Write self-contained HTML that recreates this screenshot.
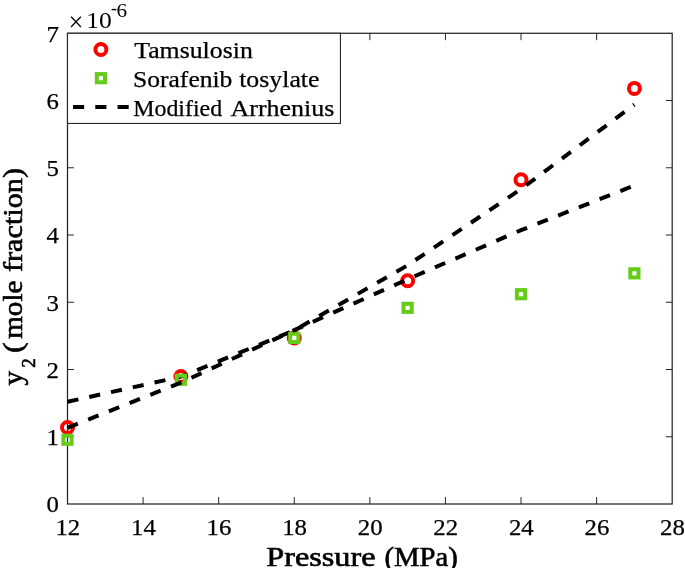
<!DOCTYPE html>
<html lang="en"><head><meta charset="utf-8"><title>Solubility vs Pressure</title>
<style>html,body{margin:0;padding:0;background:#fff;}svg{display:block;}text{font-family:"Liberation Serif", "DejaVu Serif", serif;fill:#000;}</style>
</head><body>
<svg width="685" height="568" viewBox="0 0 685 568">
<rect x="0" y="0" width="685" height="568" fill="#fff"/>
<g fill="none" stroke="#262626" stroke-width="1.25">
<rect x="67.50" y="33.28" width="604.70" height="470.72"/>
</g>
<path d="M143.09 504.00V497.10M143.09 33.28V40.18M218.68 504.00V497.10M218.68 33.28V40.18M294.26 504.00V497.10M294.26 33.28V40.18M369.85 504.00V497.10M369.85 33.28V40.18M445.44 504.00V497.10M445.44 33.28V40.18M521.03 504.00V497.10M521.03 33.28V40.18M596.61 504.00V497.10M596.61 33.28V40.18M67.50 436.75H73.90M672.20 436.75H665.80M67.50 369.51H73.90M672.20 369.51H665.80M67.50 302.26H73.90M672.20 302.26H665.80M67.50 235.02H73.90M672.20 235.02H665.80M67.50 167.77H73.90M672.20 167.77H665.80M67.50 100.53H73.90M672.20 100.53H665.80" fill="none" stroke="#262626" stroke-width="1"/>
<g font-size="22.3" text-anchor="middle" stroke="#000" stroke-width="0.25">
<text x="67.80" y="534.6" textLength="24.8" lengthAdjust="spacingAndGlyphs">12</text>
<text x="143.39" y="534.6" textLength="24.8" lengthAdjust="spacingAndGlyphs">14</text>
<text x="218.98" y="534.6" textLength="24.8" lengthAdjust="spacingAndGlyphs">16</text>
<text x="294.56" y="534.6" textLength="24.8" lengthAdjust="spacingAndGlyphs">18</text>
<text x="370.15" y="534.6" textLength="24.8" lengthAdjust="spacingAndGlyphs">20</text>
<text x="445.74" y="534.6" textLength="24.8" lengthAdjust="spacingAndGlyphs">22</text>
<text x="521.33" y="534.6" textLength="24.8" lengthAdjust="spacingAndGlyphs">24</text>
<text x="596.91" y="534.6" textLength="24.8" lengthAdjust="spacingAndGlyphs">26</text>
<text x="672.50" y="534.6" textLength="24.8" lengthAdjust="spacingAndGlyphs">28</text>
</g>
<g font-size="22.3" text-anchor="end" stroke="#000" stroke-width="0.25">
<text x="58.9" y="512.30" textLength="12.4" lengthAdjust="spacingAndGlyphs">0</text>
<text x="58.9" y="445.05" textLength="12.4" lengthAdjust="spacingAndGlyphs">1</text>
<text x="58.9" y="377.81" textLength="12.4" lengthAdjust="spacingAndGlyphs">2</text>
<text x="58.9" y="310.56" textLength="12.4" lengthAdjust="spacingAndGlyphs">3</text>
<text x="58.9" y="243.32" textLength="12.4" lengthAdjust="spacingAndGlyphs">4</text>
<text x="58.9" y="176.07" textLength="12.4" lengthAdjust="spacingAndGlyphs">5</text>
<text x="58.9" y="108.83" textLength="12.4" lengthAdjust="spacingAndGlyphs">6</text>
<text x="58.9" y="41.58" textLength="12.4" lengthAdjust="spacingAndGlyphs">7</text>
</g>
<text font-size="22.3"><tspan x="68.4" y="31.4" font-size="26.4">×</tspan><tspan x="86.2" y="28" textLength="25.6" lengthAdjust="spacingAndGlyphs">10</tspan><tspan x="111" y="14.2" font-size="18.2">-</tspan><tspan x="116.4" y="16.7" font-size="18.2" textLength="10.6" lengthAdjust="spacingAndGlyphs">6</tspan></text>
<text y="565.6" font-size="27" stroke="#000" stroke-width="0.60"><tspan x="266.2" textLength="109.4" lengthAdjust="spacingAndGlyphs">Pressure</tspan> <tspan x="384.5" textLength="73.3" lengthAdjust="spacingAndGlyphs">(MPa)</tspan></text>
<g transform="translate(21.8 385.5) rotate(-90)">
<text font-size="27" stroke="#000" stroke-width="0.60"><tspan x="0" y="0" textLength="14.5" lengthAdjust="spacingAndGlyphs">y</tspan><tspan x="17.8" y="13.1" font-size="19">2</tspan> <tspan x="32.4" y="0" textLength="10.8" lengthAdjust="spacingAndGlyphs">(</tspan><tspan x="46.7" y="0" textLength="58.3" lengthAdjust="spacingAndGlyphs">mole</tspan> <tspan x="113.5" y="0" textLength="104" lengthAdjust="spacingAndGlyphs">fraction)</tspan></text>
</g>
<g fill="none" stroke="#ff0000" stroke-width="4.00">
<circle cx="67.50" cy="427.47" r="5.50"/>
<circle cx="180.88" cy="376.43" r="5.50"/>
<circle cx="294.26" cy="337.90" r="5.50"/>
<circle cx="407.64" cy="280.74" r="5.50"/>
<circle cx="521.03" cy="179.74" r="5.50"/>
<circle cx="634.41" cy="88.42" r="5.50"/>
</g>
<polyline points="67.50,401.79 180.88,376.70 294.26,330.37 407.64,265.28 521.03,189.09 634.41,104.56" fill="none" stroke="#000" stroke-width="4" stroke-dasharray="11.14 11.14"/>
<g fill="none" stroke="#66cc1a" stroke-width="4.00">
<rect x="63.40" y="435.68" width="8.20" height="8.20"/>
<rect x="176.78" y="375.63" width="8.20" height="8.20"/>
<rect x="290.16" y="333.80" width="8.20" height="8.20"/>
<rect x="403.54" y="303.74" width="8.20" height="8.20"/>
<rect x="516.93" y="290.09" width="8.20" height="8.20"/>
<rect x="630.31" y="269.25" width="8.20" height="8.20"/>
</g>
<polyline points="67.50,427.81 180.88,382.62 294.26,330.17 407.64,279.26 521.03,230.18 634.41,185.52" fill="none" stroke="#000" stroke-width="4" stroke-dasharray="11.14 11.14"/>
<rect x="67.50" y="33.28" width="272.95" height="90.17" fill="#fff" stroke="#262626" stroke-width="1.1"/>
<circle cx="100.9" cy="49.5" r="5.50" fill="none" stroke="#ff0000" stroke-width="4.00"/>
<rect x="96.80" y="74.10" width="8.20" height="8.20" fill="none" stroke="#66cc1a" stroke-width="4.00"/>
<path d="M73 106.9H133" fill="none" stroke="#000" stroke-width="4" stroke-dasharray="11.14 11.14"/>
<g font-size="22.3" stroke="#000" stroke-width="0.25">
<text y="58.1"><tspan x="134.2" textLength="118.6" lengthAdjust="spacingAndGlyphs">Tamsulosin</tspan></text>
<text y="86.9"><tspan x="133.0" textLength="99.4" lengthAdjust="spacingAndGlyphs">Sorafenib</tspan> <tspan x="239.2" textLength="80.3" lengthAdjust="spacingAndGlyphs">tosylate</tspan></text>
<text y="115.5"><tspan x="133.2" textLength="89.0" lengthAdjust="spacingAndGlyphs">Modified</tspan> <tspan x="230.5" textLength="103.8" lengthAdjust="spacingAndGlyphs">Arrhenius</tspan></text>
</g>
</svg>
</body></html>
